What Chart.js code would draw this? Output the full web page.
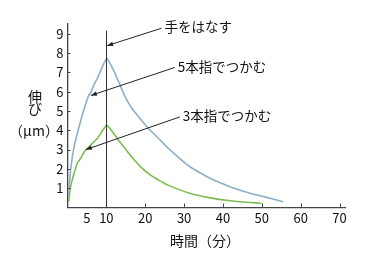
<!DOCTYPE html>
<html><head><meta charset="utf-8">
<script src="https://cdn.jsdelivr.net/npm/chart.js@4/dist/chart.umd.min.js"></script>
<style>html,body{margin:0;padding:0;background:#fff}#c{display:block}</style>
</head><body>
<canvas id="c" width="367" height="265"></canvas>
<script>
// Data (minutes, micrometres)
const xTicks = [5, 10, 20, 30, 40, 50, 60, 70];
const yTicks = [1, 2, 3, 4, 5, 6, 7, 8, 9];
const fiveX = [0.3, 0.8, 1.7, 3.0, 4.2, 5.5, 6.0, 6.8, 7.7, 10.1, 11.8, 13.5, 14.8, 16.5, 18.6, 20.8, 23.3, 26.3, 31.5, 36.7, 41.8, 47.0, 52.1, 55.5];
const fiveY = [0.6, 1.94, 3.15, 4.19, 5.05, 5.83, 5.95, 6.35, 6.7, 7.73, 7.12, 6.35, 5.74, 5.15, 4.62, 4.1, 3.6, 3.0, 2.11, 1.51, 1.08, 0.74, 0.48, 0.3];
const threeX = [0.3, 0.8, 1.7, 2.5, 3.4, 4.1, 4.8, 6.0, 7.7, 10.1, 13.1, 16.1, 19.1, 21.2, 23.8, 26.3, 31.5, 36.7, 41.8, 47.0, 49.9];
const threeY = [0.3, 1.08, 1.77, 2.29, 2.55, 2.81, 3.0, 3.24, 3.58, 4.25, 3.5, 2.72, 2.05, 1.7, 1.38, 1.12, 0.74, 0.5, 0.35, 0.26, 0.22];
const releaseX = 10;
const releaseTop = 9.15;
const labels = ["手をはなす", "5本指でつかむ", "3本指でつかむ"];
const yTitle = ["伸", "び", "（μm）"];
const xTitle = "時間（分）";

const FONT = '"Noto Sans CJK JP", "Noto Sans", sans-serif';
const AXIS = '#444';
const toPts = (xs, ys) => xs.map((x, i) => ({x, y: ys[i]}));

const annot = {
  id: 'annot',
  afterDatasetsDraw(chart) {
    const {ctx} = chart, xs = chart.scales.x, ys = chart.scales.y;
    ctx.save();
    // inward tick marks
    ctx.strokeStyle = AXIS; ctx.lineWidth = 1;
    xTicks.filter(v => v !== 5).forEach(v => {
      const px = Math.round(xs.getPixelForValue(v)) + 0.5;
      ctx.beginPath(); ctx.moveTo(px, ys.bottom); ctx.lineTo(px, ys.bottom - 4); ctx.stroke();
    });
    yTicks.forEach(v => {
      const py = Math.round(ys.getPixelForValue(v)) + 0.5;
      ctx.beginPath(); ctx.moveTo(xs.left, py); ctx.lineTo(xs.left + 3, py); ctx.stroke();
    });
    // vertical release line
    const vx = Math.round(xs.getPixelForValue(releaseX)) + 0.5;
    ctx.strokeStyle = '#333'; ctx.lineWidth = 1;
    ctx.beginPath(); ctx.moveTo(vx, ys.getPixelForValue(releaseTop)); ctx.lineTo(vx, ys.bottom); ctx.stroke();
    // arrows with labels: [fromX, fromY, toX, toY] in data units
    const arrows = [[24.2, 9.28, 10.2, 8.38], [27.6, 7.25, 6.0, 5.8], [28.9, 4.69, 4.75, 3.0]];
    ctx.font = '13.5px ' + FONT; ctx.fillStyle = '#111'; ctx.textBaseline = 'middle'; ctx.textAlign = 'left';
    arrows.forEach((a, i) => {
      const x1 = xs.getPixelForValue(a[0]), y1 = ys.getPixelForValue(a[1]);
      const x2 = xs.getPixelForValue(a[2]), y2 = ys.getPixelForValue(a[3]);
      ctx.strokeStyle = '#222'; ctx.lineWidth = 1;
      ctx.beginPath(); ctx.moveTo(x1, y1); ctx.lineTo(x2, y2); ctx.stroke();
      const ang = Math.atan2(y2 - y1, x2 - x1), L = 6, W = 2.2;
      ctx.fillStyle = '#222';
      ctx.beginPath();
      ctx.moveTo(x2, y2);
      ctx.lineTo(x2 - L * Math.cos(ang) + W * Math.sin(ang), y2 - L * Math.sin(ang) - W * Math.cos(ang));
      ctx.lineTo(x2 - L * Math.cos(ang) - W * Math.sin(ang), y2 - L * Math.sin(ang) + W * Math.cos(ang));
      ctx.closePath(); ctx.fill();
      ctx.fillStyle = '#111';
      ctx.fillText(labels[i], x1 + 3, y1 - 1);
    });
    // axis titles
    ctx.font = '14px ' + FONT; ctx.textAlign = 'center';
    ctx.fillText(yTitle[0], 35, 97);
    ctx.fillText(yTitle[1], 35, 109);
    ctx.fillText(yTitle[2], 34, 131);
    ctx.fillText(xTitle, 205, 241);
    ctx.restore();
  }
};

new Chart(document.getElementById('c'), {
  type: 'line',
  data: {
    datasets: [
      {label: labels[1], data: toPts(fiveX, fiveY), borderColor: '#8fb0c9', borderWidth: 1.6, pointRadius: 0, tension: 0.15, fill: false},
      {label: labels[2], data: toPts(threeX, threeY), borderColor: '#7dbd4f', borderWidth: 1.6, pointRadius: 0, tension: 0.15, fill: false}
    ]
  },
  options: {
    responsive: false, animation: false, devicePixelRatio: 1,
    layout: {padding: {left: 0, right: 22, top: 24, bottom: 0}},
    plugins: {legend: {display: false}, tooltip: {enabled: false}},
    scales: {
      x: {
        type: 'linear', min: 0, max: 71.4,
        afterBuildTicks: s => { s.ticks = xTicks.map(v => ({value: v})); },
        afterFit: s => { s.height = 57.5; },
        grid: {display: false, drawTicks: false},
        border: {display: true, color: AXIS, width: 1.3},
        ticks: {color: '#111', padding: 3, font: {family: FONT, size: 13}, maxRotation: 0, autoSkip: false}
      },
      y: {
        type: 'linear', min: 0, max: 9.5,
        afterBuildTicks: s => { s.ticks = yTicks.map(v => ({value: v})); },
        afterFit: s => { s.width = 67.5; },
        grid: {display: false, drawTicks: false},
        border: {display: true, color: AXIS, width: 1.3},
        ticks: {color: '#111', padding: 4, font: {family: FONT, size: 13}, autoSkip: false}
      }
    }
  },
  plugins: [annot]
});
</script>
</body></html>
